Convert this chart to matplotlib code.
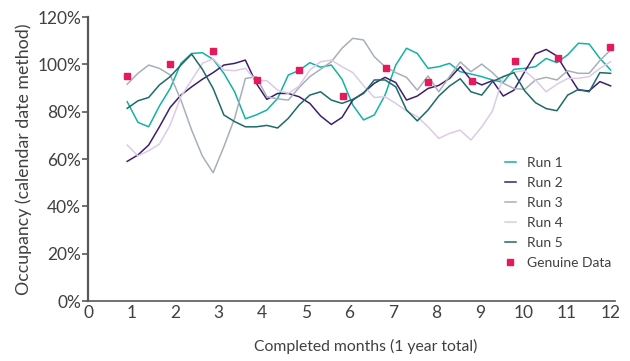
import numpy as np
import matplotlib
matplotlib.use("Agg")
import matplotlib.pyplot as plt
from matplotlib.ticker import FuncFormatter

plt.rcParams['font.family'] = ['Lato', 'DejaVu Sans']

# sample positions of the simulated runs (completed months)
months = np.linspace(0.9, 12.0, 46)

run1 = [84.2, 75.5, 73.6, 82.4, 89.8, 100.4, 104.6, 104.9, 102.1, 96.2, 88.4, 77.0,
        78.6, 80.7, 85.6, 95.5, 97.4, 100.7, 98.8, 99.7, 93.7, 82.8, 76.5,
        78.6, 87.0, 99.7, 106.8, 104.6, 98.3, 99.0, 100.4, 96.9, 95.9, 94.8, 93.4,
        92.4, 97.9, 98.3, 99.0, 102.5, 100.7, 104.0, 108.9, 108.6, 102.5, 97.6]
run2 = [59.0, 61.7, 65.9, 73.6, 81.8, 87.0, 90.5, 93.7, 96.5, 99.7, 100.4, 101.8,
        92.1, 85.2, 87.7, 87.7, 86.3, 83.5, 78.2, 74.6, 77.6, 84.9, 88.0,
        92.0, 94.5, 92.3, 84.9, 86.6, 89.8, 91.1, 94.0, 99.0, 93.4, 91.3, 93.1,
        86.6, 89.1, 96.9, 104.4, 106.3, 103.5, 96.2, 89.1, 88.8, 92.7, 90.9]
run3 = [91.6, 96.2, 99.7, 98.3, 95.5, 84.9, 72.2, 61.2, 54.2, 65.2, 77.2, 94.0,
        94.8, 86.3, 85.4, 84.9, 90.2, 94.8, 97.9, 101.1, 106.8, 111.0, 110.3,
        103.2, 99.0, 96.5, 94.5, 89.1, 95.1, 88.4, 94.8, 101.0, 96.9, 100.1, 96.5,
        92.0, 89.8, 89.4, 93.4, 94.5, 93.4, 97.3, 96.2, 96.2, 101.6, 106.1]
run4 = [65.9, 61.3, 63.5, 66.3, 74.4, 86.3, 93.4, 100.4, 102.4, 97.6, 97.3, 98.3,
        93.1, 93.1, 89.1, 87.7, 90.8, 97.6, 101.1, 101.8, 99.0, 96.5, 91.0,
        86.0, 86.3, 83.5, 80.3, 77.9, 73.6, 68.7, 70.8, 72.2, 68.0, 73.6, 80.3,
        94.8, 96.7, 97.3, 93.4, 88.4, 91.6, 94.0, 94.1, 94.8, 98.3, 101.1]
run5 = [81.4, 84.6, 86.0, 91.3, 94.8, 99.7, 104.3, 97.9, 89.8, 78.6, 75.8, 73.6,
        73.6, 74.2, 73.1, 77.2, 82.8, 87.0, 88.4, 84.9, 83.5, 85.2, 87.7,
        93.4, 93.4, 90.5, 80.7, 76.1, 80.7, 86.6, 90.8, 93.9, 88.4, 87.0, 92.7,
        94.8, 96.5, 88.8, 83.8, 81.3, 80.4, 87.0, 89.4, 88.4, 96.5, 96.2]

genuine_months = [0.9, 1.88, 2.87, 3.88, 4.84, 5.86, 6.84, 7.81, 8.82, 9.8, 10.79, 11.99]
genuine = [95.0, 100.1, 105.8, 93.4, 97.6, 86.7, 98.6, 92.7, 93.1, 101.5, 102.8, 107.4]

runs = [run1, run2, run3, run4, run5]
labels = ['Run 1', 'Run 2', 'Run 3', 'Run 4', 'Run 5']
colors = ['#14b2a5', '#3d1f6e', '#a7b0b8', '#dccbe4', '#1c6b67']

fig = plt.figure(figsize=(6.3, 3.61), dpi=100)
ax = fig.add_axes([88/630, 60/361, 527/630, 284/361])

for r, lab, c in zip(runs, labels, colors):
    ax.plot(months, r, color=c, lw=1.1, label=lab)
ax.plot(genuine_months, genuine, 's', color='#e8185c', ms=5, label='Genuine Data',
        clip_on=False, zorder=5)

ax.set_xlim(0, 12.1)
ax.set_ylim(0, 120)
ax.set_xticks(range(0, 13))
ax.set_yticks(range(0, 121, 20))
ax.yaxis.set_major_formatter(FuncFormatter(lambda v, p: f'{int(v)}%'))

for s in ['top', 'right']:
    ax.spines[s].set_visible(False)
ax.spines['left'].set_color('#595959')
ax.spines['left'].set_linewidth(1.6)
ax.spines['bottom'].set_color('#595959')
ax.spines['bottom'].set_linewidth(1.2)
ax.tick_params(axis='x', length=0, pad=3, labelsize=12.5, labelcolor='#404040')
ax.tick_params(axis='y', length=4, width=1.2, color='#595959', pad=1,
               labelsize=12.5, labelcolor='#404040')

ax.set_xlabel('Completed months (1 year total)', fontsize=11.3, color='#404040')
ax.xaxis.set_label_coords(0.526, -0.132)
ax.set_ylabel('Occupancy (calendar date method)', fontsize=12.8, color='#404040', labelpad=4)

ax.legend(loc='upper left', bbox_to_anchor=(492/630, 1 - 144/361),
          bbox_transform=fig.transFigure, frameon=False, fontsize=10,
          handlelength=0.8, handletextpad=0.8, labelspacing=0.58,
          labelcolor='#404040')

fig.savefig('out.png', dpi=100)
